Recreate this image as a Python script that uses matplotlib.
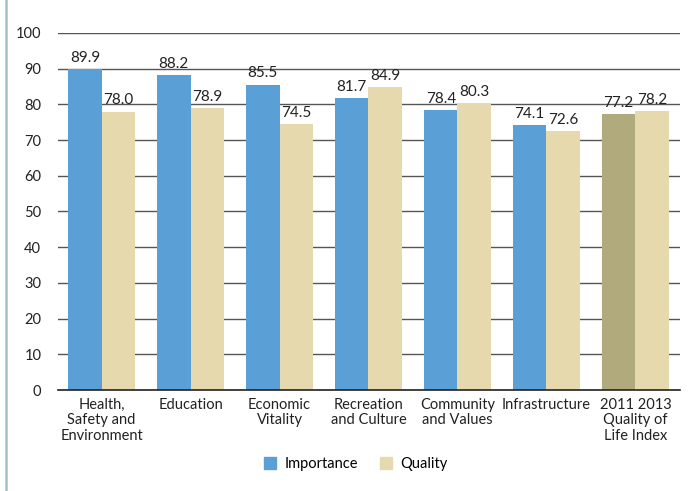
import numpy as np
import matplotlib
matplotlib.use("Agg")
from matplotlib import pyplot as plt
from matplotlib.patches import Patch
from matplotlib.lines import Line2D

categories = ["Health,\nSafety and\nEnvironment", "Education", "Economic\nVitality",
              "Recreation\nand Culture", "Community\nand Values", "Infrastructure",
              "2011 2013\nQuality of\nLife Index"]
importance = [89.9, 88.2, 85.5, 81.7, 78.4, 74.1, 77.2]
quality = [78.0, 78.9, 74.5, 84.9, 80.3, 72.6, 78.2]
yticks = [0, 10, 20, 30, 40, 50, 60, 70, 80, 90, 100]

blue = "#5a9fd5"
beige = "#e6d9ad"
olive = "#b1aa7c"

plt.rcParams['font.family'] = ['Lato', 'DejaVu Sans']

fig = plt.figure(figsize=(6.91, 4.91), dpi=100)
ax = fig.add_axes([0.0839, 0.2057, 0.900, 0.7271])

x = np.arange(len(categories))
w = 0.375
colors_imp = [blue] * (len(categories) - 1) + [olive]
b1 = ax.bar(x - w / 2, importance, w, color=colors_imp, zorder=2)
b2 = ax.bar(x + w / 2, quality, w, color=beige, zorder=2)

for rect, v in zip(list(b1) + list(b2), importance + quality):
    ax.text(rect.get_x() + rect.get_width() / 2, v + 1.2, f"{v:.1f}",
            ha="center", va="bottom", fontsize=11, color="#222222")

ax.set_ylim(0, 100)
ax.set_xlim(-0.49, 6.5)
ax.set_yticks(yticks)
ax.set_yticklabels([str(t) for t in yticks], fontsize=10.5, color="#222222")
ax.set_xticks(x)
ax.set_xticklabels(categories, fontsize=10.5, color="#222222", linespacing=1.1)
ax.tick_params(axis="both", length=0, pad=6)
ax.tick_params(axis="y", pad=12)
ax.yaxis.grid(True, color="#555555", linewidth=1.0, zorder=0)
ax.set_axisbelow(True)
for s in ["left", "right", "top"]:
    ax.spines[s].set_visible(False)
ax.spines["bottom"].set_color("#222222")
ax.spines["bottom"].set_linewidth(1.2)
ax.spines["bottom"].set_zorder(3)

handles = [Patch(color=blue, label="Importance"), Patch(color=beige, label="Quality")]
fig.legend(handles=handles, loc="center", bbox_to_anchor=(0.515, 0.055), ncol=2,
           frameon=False, fontsize=10.5, handlelength=0.8, handleheight=0.8,
           columnspacing=1.5, handletextpad=0.6)

fig.add_artist(Line2D([0.008, 0.008], [0, 1], color="#a3bfd0", linewidth=1.8))

fig.savefig("out.png", dpi=100)
